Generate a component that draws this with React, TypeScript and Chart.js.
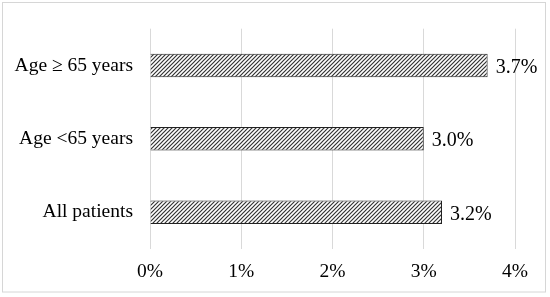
import React, { useEffect, useRef } from "react";
import { Chart, registerables } from "chart.js";

Chart.register(...registerables);

const categories = ["Age \u2265 65 years", "Age <65 years", "All patients"];
const values = [3.7, 3.0, 3.2];
const xTicks = [0, 1, 2, 3, 4];

const FONT = "'Liberation Serif', 'Times New Roman', serif";

function makeHatch(): CanvasPattern | string {
  const c = document.createElement("canvas");
  c.width = 4;
  c.height = 4;
  const g = c.getContext("2d");
  if (!g) return "#888";
  g.fillStyle = "#ffffff";
  g.fillRect(0, 0, 4, 4);
  g.strokeStyle = "#333333";
  g.lineWidth = 1.2;
  g.beginPath();
  g.moveTo(-1, 5);
  g.lineTo(5, -1);
  g.moveTo(-1, 1);
  g.lineTo(1, -1);
  g.moveTo(3, 5);
  g.lineTo(5, 3);
  g.stroke();
  const p = g.createPattern(c, "repeat");
  return p || "#888";
}

const frame = {
  id: "frame",
  beforeDraw(chart: any) {
    const ctx = chart.ctx;
    ctx.save();
    ctx.fillStyle = "#ffffff";
    ctx.fillRect(0, 0, chart.width, chart.height);
    ctx.strokeStyle = "#d6d6d6";
    ctx.lineWidth = 1;
    ctx.strokeRect(2.5, 2.5, 543, 289.5);
    ctx.restore();
  },
};

const valueLabels = {
  id: "valueLabels",
  afterDatasetsDraw(chart: any) {
    const ctx = chart.ctx;
    const meta = chart.getDatasetMeta(0);
    ctx.save();
    ctx.font = `20px ${FONT}`;
    ctx.fillStyle = "#000";
    ctx.textAlign = "left";
    ctx.textBaseline = "middle";
    meta.data.forEach((el: any, i: number) => {
      ctx.fillText(values[i].toFixed(1) + "%", el.x + 8, el.y + 2);
    });
    ctx.restore();
  },
};

export default function App() {
  const ref = useRef<HTMLCanvasElement>(null);
  useEffect(() => {
    if (!ref.current) return;
    const chart = new Chart(ref.current, {
      type: "bar",
      data: {
        labels: categories,
        datasets: [
          {
            data: values,
            backgroundColor: makeHatch() as any,
            borderColor: "#222",
            borderWidth: 1,
            categoryPercentage: 1,
            barPercentage: 0.32,
          },
        ],
      },
      options: {
        indexAxis: "y",
        animation: false,
        responsive: false,
        layout: { padding: { left: 0, right: 35, top: 21, bottom: 0 } },
        plugins: { legend: { display: false }, tooltip: { enabled: false } },
        scales: {
          x: {
            min: 0,
            max: 4,
            afterBuildTicks(axis: any) {
              axis.ticks = xTicks.map((v) => ({ value: v }));
            },
            afterFit(axis: any) {
              axis.height = 297 - 249;
            },
            grid: { color: "#d9d9d9", drawTicks: false, lineWidth: 1 },
            border: { display: false },
            ticks: {
              padding: 11,
              color: "#000",
              font: { family: FONT, size: 19.5 },
              callback: (v: any) => v + "%",
            },
          },
          y: {
            afterFit(axis: any) {
              axis.width = 150;
            },
            grid: { display: false, drawTicks: false },
            border: { display: false },
            ticks: {
              padding: 17,
              color: "#000",
              font: { family: FONT, size: 19.5 },
            },
          },
        },
      },
      plugins: [frame, valueLabels],
    });
    return () => chart.destroy();
  }, []);
  return (
    <div style={{ position: "absolute", left: 0, top: 0, width: 550, height: 297 }}>
      <canvas ref={ref} width={550} height={297} style={{ width: 550, height: 297 }} />
    </div>
  );
}
